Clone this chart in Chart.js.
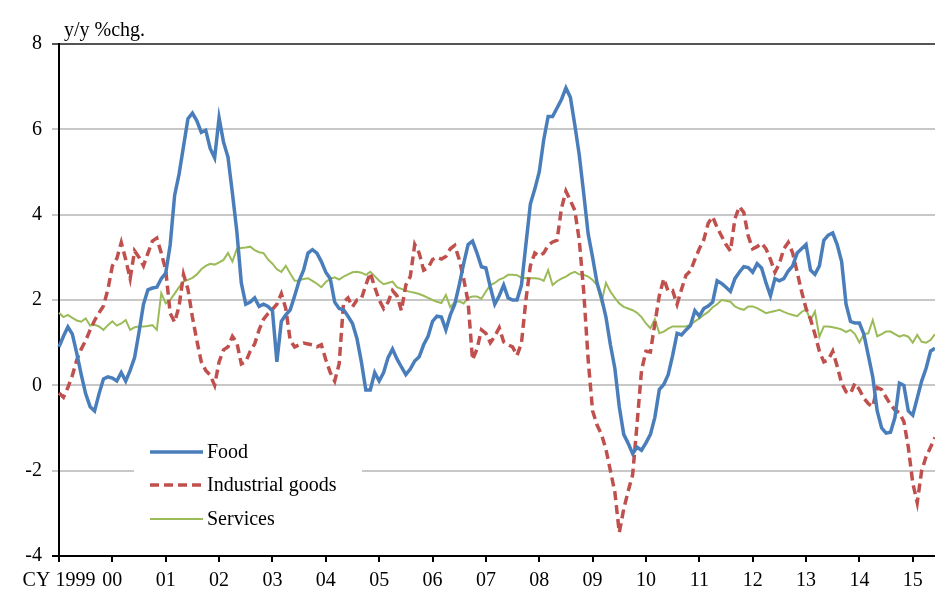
<!DOCTYPE html>
<html>
<head>
<meta charset="utf-8">
<script src="https://cdn.jsdelivr.net/npm/chart.js@4"></script>
<style>
  body { margin: 0; background: #fff; }
  #wrap { width: 935px; height: 592px; }
</style>
</head>
<body>
<div id="wrap"><canvas id="chart" width="935" height="592"></canvas></div>
<script>
// monthly y/y % change, Jan 1999 - Jun 2015
const yearLabels = ['CY 1999', '00', '01', '02', '03', '04', '05', '06', '07',
    '08', '09', '10', '11', '12', '13', '14', '15'];

const food = [
    0.9, 1.15, 1.37, 1.2, 0.75, 0.25, -0.2, -0.5, -0.6, -0.2, 0.15, 0.2,
    0.17, 0.1, 0.3, 0.1, 0.35, 0.65, 1.25, 1.9, 2.24, 2.28, 2.3, 2.5,
    2.63, 3.29, 4.45, 4.95, 5.6, 6.25, 6.38, 6.2, 5.93, 5.98, 5.55, 5.33,
    6.27, 5.7, 5.35, 4.5, 3.6, 2.4, 1.9, 1.95, 2.05, 1.85, 1.9, 1.85,
    1.75, 0.55, 1.5, 1.65, 1.77, 2.1, 2.45, 2.7, 3.1, 3.18, 3.1, 2.9,
    2.65, 2.5, 1.95, 1.8, 1.77, 1.62, 1.45, 1.1, 0.55, -0.11, -0.11, 0.3,
    0.1, 0.3, 0.65, 0.85, 0.62, 0.43, 0.25, 0.38, 0.57, 0.67, 0.95, 1.15,
    1.5, 1.62, 1.6, 1.3, 1.65, 1.9, 2.35, 2.85, 3.3, 3.38, 3.1, 2.78,
    2.75, 2.3, 1.9, 2.1, 2.35, 2.05, 2.0, 2.0, 2.35, 3.3, 4.25, 4.6,
    5.0, 5.75, 6.3, 6.3, 6.5, 6.7, 6.97, 6.75, 6.1, 5.4, 4.5, 3.55,
    3.0, 2.4, 2.05, 1.6, 0.95, 0.4, -0.5, -1.15, -1.36, -1.6, -1.45, -1.52,
    -1.35, -1.15, -0.75, -0.1, 0.02, 0.25, 0.7, 1.22, 1.18, 1.3, 1.4, 1.75,
    1.62, 1.8, 1.86, 1.95, 2.45, 2.39, 2.3, 2.2, 2.5, 2.65, 2.78, 2.76,
    2.65, 2.85, 2.75, 2.4, 2.1, 2.5, 2.45, 2.5, 2.68, 2.8, 3.1, 3.2,
    3.3, 2.7, 2.6, 2.8, 3.4, 3.52, 3.57, 3.3, 2.9, 1.9, 1.5, 1.46,
    1.46, 1.2, 0.7, 0.2, -0.6, -1.0, -1.12, -1.1, -0.75, 0.05, 0.0, -0.6,
    -0.7, -0.3, 0.1, 0.4, 0.8, 0.87
];

const industrialGoods = [
    -0.18, -0.28, -0.05, 0.23, 0.6, 0.85, 1.05, 1.3, 1.52, 1.7, 1.86, 2.25,
    2.8, 2.97, 3.35, 2.95, 2.5, 3.15, 3.0, 2.8, 3.1, 3.38, 3.45, 3.1,
    2.7, 1.69, 1.48, 1.85, 2.6, 2.25, 1.6, 1.05, 0.55, 0.35, 0.24, 0.0,
    0.55, 0.83, 0.9, 1.15, 1.0, 0.5, 0.55, 0.8, 0.97, 1.3, 1.55, 1.68,
    1.78, 1.9, 2.15, 1.8, 1.05, 0.9, 0.95, 0.99, 0.97, 0.95, 0.9, 0.95,
    0.6, 0.3, 0.1, 0.5, 1.95, 2.05, 1.84, 2.0, 2.03, 2.35, 2.64, 2.3,
    2.0, 1.8, 1.95, 2.22, 2.1, 1.75, 2.35, 2.55, 3.3, 3.1, 2.7, 2.75,
    2.95, 3.0, 2.96, 3.02, 3.2, 3.28, 2.95, 2.5, 1.95, 0.6, 0.85, 1.3,
    1.22, 1.0, 1.15, 1.35, 1.02, 0.95, 0.9, 0.7, 0.99, 2.0, 2.8, 3.1,
    3.03, 3.1, 3.28, 3.36, 3.4, 4.15, 4.55, 4.33, 4.1, 3.4, 2.2, 0.6,
    -0.6, -0.93, -1.15, -1.5, -2.0, -2.5, -3.45, -2.9, -2.48, -2.1, -0.9, 0.35,
    0.8, 0.78, 1.45, 2.1, 2.5, 2.2, 2.22, 1.9, 2.25, 2.58, 2.68, 2.95,
    3.2, 3.41, 3.8, 3.95, 3.7, 3.5, 3.3, 3.15, 3.9, 4.19, 4.05, 3.5,
    3.2, 3.25, 3.33, 3.2, 2.95, 2.65, 2.85, 3.2, 3.35, 3.1, 2.65, 2.2,
    1.8, 1.55, 1.2, 0.8, 0.55, 0.6, 0.8, 0.45, 0.05, -0.15, -0.19, 0.05,
    -0.1, -0.3, -0.43, -0.5, -0.05, -0.1, -0.28, -0.45, -0.58, -0.64, -0.85, -1.45,
    -2.29, -2.75, -2.0, -1.67, -1.45, -1.22
];

const services = [
    1.7, 1.6, 1.65, 1.58, 1.52, 1.49, 1.57, 1.4, 1.42, 1.38, 1.3, 1.41,
    1.5, 1.4, 1.45, 1.53, 1.3, 1.36, 1.38, 1.38, 1.39, 1.41, 1.3, 2.16,
    1.92, 2.0, 2.15, 2.3, 2.43, 2.47, 2.52, 2.6, 2.72, 2.8, 2.85, 2.83,
    2.88, 2.94, 3.1, 2.9, 3.2, 3.22, 3.23, 3.25, 3.17, 3.12, 3.1, 2.95,
    2.85, 2.72, 2.66, 2.8, 2.62, 2.45, 2.46, 2.49, 2.51, 2.45, 2.38, 2.3,
    2.42, 2.5, 2.53, 2.48, 2.55, 2.6, 2.65, 2.66, 2.64, 2.59, 2.66, 2.56,
    2.45, 2.37, 2.4, 2.43, 2.3, 2.26, 2.22, 2.19, 2.17, 2.14, 2.1, 2.05,
    2.0, 1.96, 1.93, 2.12, 1.83, 1.95, 1.97, 1.92, 2.05, 2.08, 2.08, 2.03,
    2.2, 2.35, 2.4, 2.48, 2.52, 2.59, 2.59, 2.58, 2.52, 2.51, 2.51, 2.51,
    2.5, 2.45, 2.7, 2.35, 2.44, 2.5, 2.55, 2.62, 2.66, 2.6, 2.59, 2.55,
    2.47, 2.35, 1.95, 2.4, 2.2, 2.05, 1.92, 1.84, 1.8, 1.76, 1.7, 1.6,
    1.45, 1.34, 1.55, 1.22, 1.26, 1.33, 1.38, 1.38, 1.38, 1.38, 1.42, 1.5,
    1.57, 1.65, 1.72, 1.83, 1.9, 2.0, 1.98, 1.96, 1.85, 1.8, 1.77, 1.85,
    1.85, 1.81, 1.75, 1.69, 1.72, 1.74, 1.77, 1.72, 1.68, 1.65, 1.62, 1.72,
    1.78, 1.53, 1.73, 1.14, 1.38, 1.38, 1.36, 1.34, 1.31, 1.25, 1.3, 1.2,
    1.0, 1.2, 1.22, 1.53, 1.15, 1.2, 1.26, 1.26, 1.2, 1.14, 1.18, 1.14,
    1.0, 1.18, 1.02, 1.0, 1.06, 1.2
];

// month labels for the category axis
const months = [];
for (let y = 1999; y <= 2015; y++) {
    for (let m = 1; m <= 12; m++) {
        if (months.length < food.length) months.push(y + '-' + String(m).padStart(2, '0'));
    }
}

const serif = 'Liberation Serif';

// title and inset legend, drawn by hand
const overlay = {
    id: 'overlay',
    afterDraw(chart) {
        const ctx = chart.ctx;
        ctx.save();
        ctx.font = '20px "' + serif + '"';
        ctx.fillStyle = '#000';
        ctx.textBaseline = 'middle';
        ctx.textAlign = 'left';
        ctx.fillText('y/y %chg.', 64, 31);

        ctx.fillStyle = '#fff';
        ctx.fillRect(134, 432, 228, 104);
        const rows = [452, 485, 519];
        chart.data.datasets.forEach((ds, i) => {
            ctx.beginPath();
            ctx.strokeStyle = ds.borderColor;
            ctx.lineWidth = ds.borderWidth;
            ctx.setLineDash(ds.borderDash || []);
            ctx.moveTo(150, rows[i]);
            ctx.lineTo(203, rows[i]);
            ctx.stroke();
            ctx.setLineDash([]);
            ctx.fillStyle = '#000';
            ctx.fillText(ds.label, 207, rows[i] + 1);
        });
        ctx.restore();
    }
};

new Chart(document.getElementById('chart'), {
    type: 'line',
    data: {
        labels: months,
        datasets: [
            {
                label: 'Food',
                data: food,
                borderColor: '#4a7ebb',
                borderWidth: 3.5,
                pointRadius: 0,
                tension: 0
            },
            {
                label: 'Industrial goods',
                data: industrialGoods,
                borderColor: '#c0504d',
                borderWidth: 3.5,
                borderDash: [9, 5],
                pointRadius: 0,
                tension: 0
            },
            {
                label: 'Services',
                data: services,
                borderColor: '#9bbb59',
                borderWidth: 2,
                pointRadius: 0,
                tension: 0
            }
        ]
    },
    options: {
        responsive: false,
        animation: false,
        layout: { padding: { top: 44, left: 0, right: 0, bottom: 0 } },
        plugins: {
            legend: { display: false },
            tooltip: { enabled: false }
        },
        scales: {
            x: {
                type: 'category',
                ticks: {
                    autoSkip: false,
                    maxRotation: 0,
                    minRotation: 0,
                    padding: 7,
                    color: '#000',
                    font: { family: serif, size: 20 },
                    callback: function(value, index) {
                        return index % 12 === 0 ? yearLabels[index / 12] : '';
                    }
                },
                grid: {
                    drawOnChartArea: false,
                    tickLength: 6,
                    lineWidth: 2,
                    color: ctx => ctx.index % 12 === 0 ? '#000' : 'rgba(0,0,0,0)'
                },
                border: { color: '#000', width: 2 },
                afterFit: function(scale) {
                    scale.height = 36;
                    scale.paddingRight = 0;
                }
            },
            y: {
                min: -4,
                max: 8,
                ticks: {
                    stepSize: 2,
                    padding: 10,
                    color: '#000',
                    font: { family: serif, size: 20 }
                },
                grid: {
                    tickLength: 7,
                    lineWidth: 2,
                    color: ctx => {
                        const v = ctx.tick ? ctx.tick.value : null;
                        if (v === 8) return '#555';
                        if (v === -4) return '#000';
                        return '#c8c8c8';
                    }
                },
                border: { color: '#000', width: 2 },
                afterFit: function(scale) { scale.width = 59; }
            }
        }
    },
    plugins: [overlay]
});
</script>
</body>
</html>
